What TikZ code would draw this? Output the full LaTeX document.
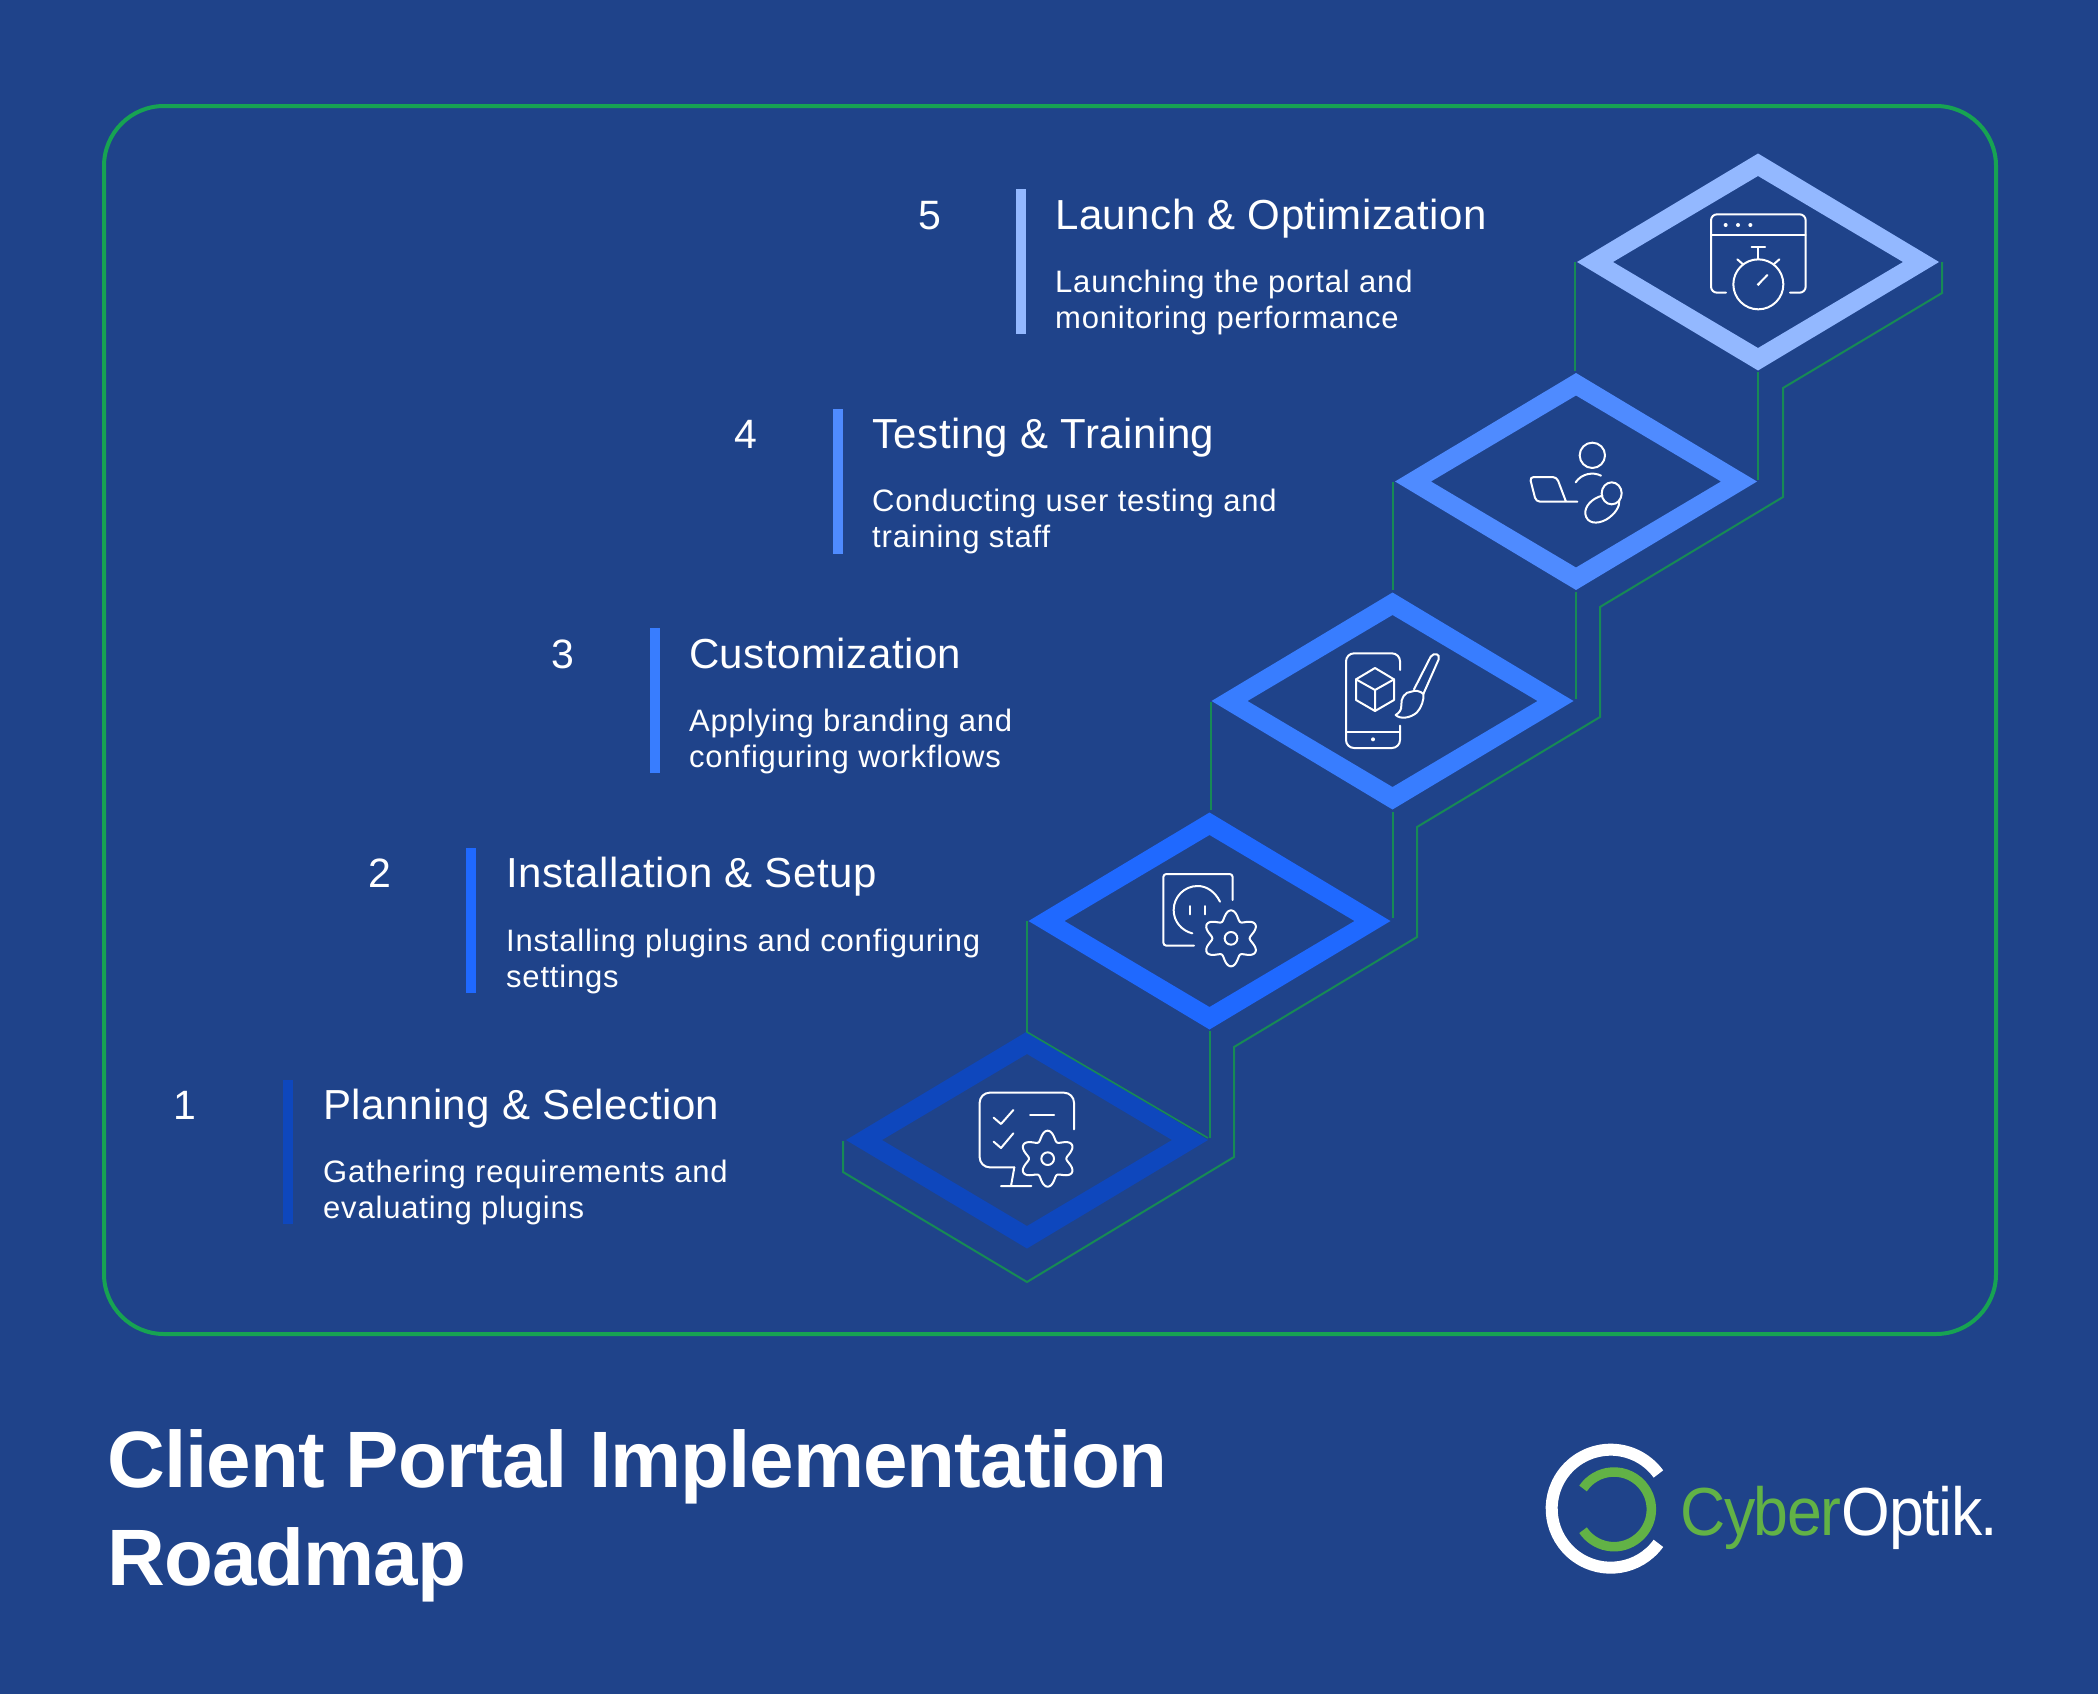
\documentclass[tikz,border=0pt]{standalone}
\usepackage{fontspec}
\setmainfont{Liberation Sans}
\newfontfamily\headfont[LetterSpace=1.2]{Liberation Sans}
\newfontfamily\subfont[LetterSpace=2.6]{Liberation Sans}
\newfontfamily\bigfont[LetterSpace=-1.2]{Liberation Sans Bold}
\newfontfamily\logofont[FakeStretch=0.92,LetterSpace=-2]{Liberation Sans}
\definecolor{bgblue}{HTML}{1F438A}
\definecolor{frameg}{HTML}{17A352}
\definecolor{thing}{HTML}{178A55}
\definecolor{logog}{HTML}{62B246}
\definecolor{stepa}{HTML}{0E47BD}
\definecolor{stepb}{HTML}{1F69FF}
\definecolor{stepc}{HTML}{387DFF}
\definecolor{stepd}{HTML}{4F8BFF}
\definecolor{stepe}{HTML}{93B8FF}
\newcommand\ringshape[2]{\fill[#2,even odd rule]
  ([shift={(-181,0)}]#1) -- ([shift={(0,-108.5)}]#1) -- ([shift={(181,0)}]#1) -- ([shift={(0,108.5)}]#1) -- cycle
  ([shift={(-145,0)}]#1) -- ([shift={(0,-86)}]#1) -- ([shift={(145,0)}]#1) -- ([shift={(0,86)}]#1) -- cycle;}
\newcommand\gearshape[2]{%
  \draw[iconline] plot[domain=0:357,samples=120,variable=\t]
   ({#1+(70+14*cos(6*\t))*cos(\t+90)},{#2+(70+14*cos(6*\t))*sin(\t+90)}) -- cycle;
  \draw[iconline] (#1,#2) circle[radius=19];}
\newcommand\subtext[2]{\vtop{\subfont\fontsize{31}{36}\selectfont\baselineskip=36pt\hbox{#1}\hbox{#2}}}
\tikzset{
  iconline/.style={draw=white,line width=2pt,line cap=round,line join=round},
  iconat/.style 2 args={shift={(#1,#2)},x=0.33333pt,y=-0.33333pt},
  greenline/.style={draw=thing,line width=2pt},
  numlabel/.style={anchor=base,inner sep=0pt,text=white,font=\fontsize{41}{41}\selectfont},
  headlabel/.style={anchor=base west,inner sep=0pt,text=white,font=\headfont\fontsize{42}{42}\selectfont},
  sublabel/.style={anchor=base west,inner sep=0pt,text=white},
  barmark/.style={inner sep=0pt,minimum width=10pt,minimum height=145pt,anchor=north},
}
\begin{document}
\begin{tikzpicture}[x=1pt,y=-1pt]
\useasboundingbox (0,0) rectangle (2098,1694);
\fill[bgblue] (0,0) rectangle (2098,1694);
\draw[frameg,line width=4pt,rounded corners=60pt] (104,106) rectangle (1996,1334);

\coordinate (d1) at (1027,1140);
\coordinate (d2) at (1209.5,921);
\coordinate (d3) at (1392.5,701);
\coordinate (d4) at (1576,481.5);
\coordinate (d5) at (1758,262);

\ringshape{d1}{stepa}
\ringshape{d2}{stepb}
\ringshape{d3}{stepc}
\ringshape{d4}{stepd}
\ringshape{d5}{stepe}

% green outline of the staircase
\draw[greenline] (1942,262) -- (1942,293) -- (1783,388) -- (1783,497) -- (1600,607) -- (1600,717)
  -- (1417,827) -- (1417,937) -- (1234,1047) -- (1234,1157) -- (1027,1282) -- (843,1172) -- (843,1141);
\draw[greenline] (1758,372) -- (1758,480);
\draw[greenline] (1576,592) -- (1576,699);
\draw[greenline] (1392.5,812) -- (1392.5,918);
\draw[greenline] (1209.5,1031) -- (1209.5,1138);
\draw[greenline] (1575,262) -- (1575,371);
\draw[greenline] (1393,482) -- (1393,590);
\draw[greenline] (1211,702) -- (1211,810);
\draw[greenline,line width=1.6pt] (1027,921) -- (1027,1032) -- (1208,1138);

% bars
\node[barmark,fill=stepa,minimum height=144pt] (bar1) at (288,1080) {};
\node[barmark,fill=stepb] (bar2) at (471,848) {};
\node[barmark,fill=stepc] (bar3) at (654.5,628) {};
\node[barmark,fill=stepd] (bar4) at (837.5,408.5) {};
\node[barmark,fill=stepe] (bar5) at (1021,189) {};

% numbers
\node[numlabel] (n1) at (185,1119) {1};
\node[numlabel] (n2) at (380,887.5) {2};
\node[numlabel] (n3) at (563,668) {3};
\node[numlabel] (n4) at (745.5,448.5) {4};
\node[numlabel] (n5) at (929.5,229) {5};

% headings
\node[headlabel] (h1) at (323,1119) {Planning \& Selection};
\node[headlabel] (h2) at (506,887.5) {Installation \& Setup};
\node[headlabel] (h3) at (689,668) {Customization};
\node[headlabel] (h4) at (872,448.5) {Testing \& Training};
\node[headlabel] (h5) at (1055,229) {Launch \& Optimization};

% descriptions
\node[sublabel] (s1) at (323,1182) {\subtext{Gathering requirements and}{evaluating plugins}};
\node[sublabel] (s2) at (506,951) {\subtext{Installing plugins and configuring}{settings}};
\node[sublabel] (s3) at (689,731) {\subtext{Applying branding and}{configuring workflows}};
\node[sublabel] (s4) at (872,511.5) {\subtext{Conducting user testing and}{training staff}};
\node[sublabel] (s5) at (1055,292) {\subtext{Launching the portal and}{monitoring performance}};

% icon 5: window and stopwatch
\begin{scope}[iconat={1550}{130}]
\draw[iconline,rounded corners=6pt] (528,488) -- (483,488) -- (483,253) -- (767,253) -- (767,488) -- (720,488);
\draw[iconline] (483,316) -- (767,316);
\fill[white] (527,285) circle[radius=6] (564,285) circle[radius=6] (601,285) circle[radius=6];
\draw[iconline] (625,463) circle[radius=75];
\draw[iconline] (625,388) -- (625,352) (605,352) -- (645,352);
\draw[iconline] (562,388) -- (578,402) (688,388) -- (672,402);
\draw[iconline] (625,463) -- (652,435);
\fill[white] (625,463) circle[radius=5];
\end{scope}

% icon 4: person, laptop, mouse
\begin{scope}[iconat={1400}{360}]
\draw[iconline] (577,286) circle[radius=38];
\draw[iconline] (527,367) .. controls (545,340) and (580,335) .. (603,347);
\draw[iconline,rounded corners=4pt] (532,425) -- (408,425) -- (389,351) -- (470,351) -- (498,425);
\draw[iconline] (635,400) ellipse[x radius=30,y radius=33];
\draw[iconline] (607,407) .. controls (575,415) and (553,440) .. (556,462)
  .. controls (560,490) and (590,495) .. (620,478) .. controls (645,462) and (660,440) .. (658,420);
\end{scope}

% icon 3: phone, cube, brush
\begin{scope}[iconat={1210}{590}]
\draw[iconline,rounded corners=8pt] (570,240) -- (570,190) -- (408,190) -- (408,474) -- (570,474) -- (570,407);
\draw[iconline] (408,425) -- (570,425);
\fill[white] (489,448) circle[radius=6];
\draw[iconline] (495,234) -- (552,268) -- (552,330) -- (495,363) -- (438,330) -- (438,268) -- cycle;
\draw[iconline] (438,268) -- (495,300) -- (552,268) (495,300) -- (495,363);
\draw[iconline] (612,298) -- (662,200) .. controls (672,186) and (692,192) .. (686,208) -- (640,312);
\draw[iconline] (604,305) .. controls (585,305) and (572,325) .. (574,345)
  .. controls (575,360) and (568,368) .. (557,375) .. controls (570,388) and (600,385) .. (620,368)
  .. controls (635,352) and (642,330) .. (640,312) .. controls (630,302) and (615,300) .. (604,305);
\end{scope}

% icon 2: socket and gear
\begin{scope}[iconat={1030}{810}]
\draw[iconline,rounded corners=3pt] (492,407) -- (400,407) -- (400,192) -- (608,192) -- (608,270);
\draw[iconline] (570,275) .. controls (555,245) and (530,228) .. (503,228)
  .. controls (463,228) and (431,260) .. (431,300) .. controls (431,335) and (455,362) .. (487,370);
\draw[iconline] (481,288) -- (481,313) (526,288) -- (526,313);
\gearshape{603}{385}
\end{scope}

% icon 1: monitor, checks and gear
\begin{scope}[iconat={830}{1030}]
\draw[iconline,rounded corners=10pt] (732,298) -- (732,188) -- (449,188) -- (449,412) -- (553,412);
\draw[iconline] (553,412) -- (543,468) (513,468) -- (604,468);
\draw[iconline] (491,263) -- (513,282) -- (550,240);
\draw[iconline] (491,335) -- (513,354) -- (550,310);
\draw[iconline] (600,255) -- (672,255);
\gearshape{653}{386}
\end{scope}

% title
\node[anchor=base west,inner sep=0pt,text=white,font=\bigfont\fontsize{80}{80}\selectfont] (t1) at (107,1487) {Client Portal Implementation};
\node[anchor=base west,inner sep=0pt,text=white,font=\bigfont\fontsize{80}{80}\selectfont] (t2) at (107,1585) {Roadmap};

% logo
\begin{scope}[iconat={1520}{1420}]
\draw[white,line width=12pt] (272,266) ++(36:177) arc[start angle=36,end angle=324,radius=177];
\draw[logog,line width=9.5pt] (282,268) ++(146:112) arc[start angle=146,end angle=-146,radius=112];
\end{scope}
\node[anchor=base west,inner sep=0pt,font=\logofont\fontsize{68}{68}\selectfont] (logo) at (1680,1535) {\textcolor{logog}{Cyber}\textcolor{white}{Optik.}};
\end{tikzpicture}
\end{document}
